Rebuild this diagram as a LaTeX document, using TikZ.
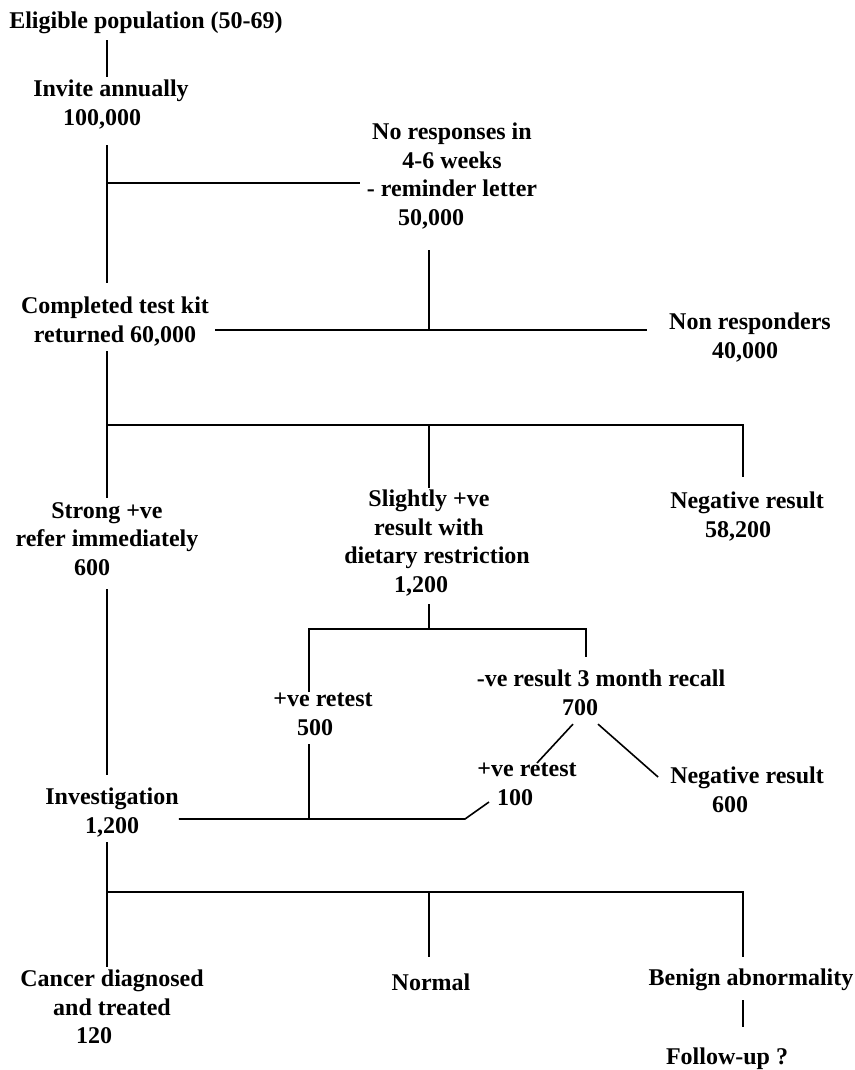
\documentclass[tikz,border=0pt]{standalone}
\usepackage{fontspec}
\setmainfont{Liberation Serif}
\begin{document}
\begin{tikzpicture}[x=1pt,y=-1pt,
  lbl/.style={align=center, inner sep=0pt, anchor=north,
    font=\fontsize{24}{28.5}\selectfont\bfseries,
    execute at begin node=\strut, execute at end node=\strut},
  conn/.style={line width=1.6pt}]
\useasboundingbox (0,0) rectangle (854,1070);
% nodes
\node[lbl] (elig) at (146,8) {Eligible population (50-69)};
\node[lbl] (invite) at (111,80) {Invite annually\\100,000\hspace*{18pt}};
\node[lbl] (nores) at (452,123) {No responses in\\4-6 weeks\hspace*{20pt}\\- reminder letter\\50,000\hspace*{42pt}};
\node[lbl] (comp) at (115,297) {Completed test kit\\returned 60,000};
\node[lbl] (nonresp) at (750,313) {Non responders\\40,000\hspace*{10pt}};
\node[lbl] (strong) at (107,502) {Strong +ve\\refer immediately\\600\hspace*{30pt}};
\node[lbl] (slight) at (429,490) {Slightly +ve\\result with\\\hspace*{16pt}dietary restriction\\1,200\hspace*{16pt}};
\node[lbl] (neg1) at (747,492) {Negative result\\58,200\hspace*{18pt}};
\node[lbl] (retest1) at (323,693) {+ve retest\\500\hspace*{16pt}};
\node[lbl] (recall) at (601,670) {-ve result 3 month recall\\700\hspace*{42pt}};
\node[lbl] (retest2) at (527,763) {+ve retest\\100\hspace*{24pt}};
\node[lbl] (neg2) at (747,767) {Negative result\\600\hspace*{34pt}};
\node[lbl] (invest) at (112,788) {Investigation\\1,200};
\node[lbl] (cancer) at (112,970) {Cancer diagnosed\\and treated\hspace*{16pt}\\120\hspace*{36pt}};
\node[lbl] (normal) at (431,970) {Normal};
\node[lbl] (benign) at (751,965) {Benign abnormality};
\node[lbl] (follow) at (727,1044) {Follow-up ?};
% guide coordinates
\coordinate (tx) at (107,0);
\coordinate (cx) at (429,0);
\coordinate (rx) at (743,0);
\coordinate (lx) at (309,0);
\coordinate (mx) at (586,0);
\coordinate (h1) at (0,183);
\coordinate (h2) at (0,330);
\coordinate (h3) at (0,425);
\coordinate (h4) at (0,629);
\coordinate (k1) at (465,819);
\coordinate (h5) at (0,892);
% connectors
\draw[conn] ([yshift=-3.5pt]elig.south -| tx) -- ([yshift=3pt]invite.north -| tx);
\draw[conn] ([yshift=-11pt]invite.south -| tx) -- ([yshift=14pt]comp.north -| tx);
\draw[conn] (tx |- h1) -- ([xshift=-7pt]nores.west |- h1);
\draw[conn] ([yshift=-16pt]nores.south -| cx) -- (cx |- h2);
\draw[conn] ([xshift=6pt]comp.east |- h2) -- ([xshift=-22pt]nonresp.west |- h2);
\draw[conn] (comp.south -| tx) -- ([yshift=4pt]strong.north -| tx);
\draw[conn] (tx |- h3) -- (rx |- h3) -- ([yshift=15pt]neg1.north -| rx);
\draw[conn] (cx |- h3) -- ([yshift=2pt]slight.north -| cx);
\draw[conn] ([yshift=-5.5pt]strong.south -| tx) -- ([yshift=13pt]invest.north -| tx);
\draw[conn] ([yshift=-3pt]slight.south -| cx) -- (cx |- h4);
\draw[conn] ([yshift=1pt]retest1.north -| lx) -- (lx |- h4) -- (mx |- h4) -- ([yshift=13pt]recall.north -| mx);
\draw[conn] (retest1.south -| lx) -- (lx |- k1);
\draw[conn] ([xshift=-28pt]recall.south) -- ([xshift=10pt]retest2.north);
\draw[conn] ([xshift=-3pt]recall.south) -- ([xshift=-12pt,yshift=-10pt]neg2.north west);
\draw[conn] (invest.east |- k1) -- (k1) -- ([xshift=-38pt,yshift=12pt]retest2.south);
\draw[conn] (invest.south -| tx) -- ([yshift=3pt]cancer.north -| tx);
\draw[conn] (tx |- h5) -- (rx |- h5) -- ([yshift=8pt]benign.north -| rx);
\draw[conn] (cx |- h5) -- ([yshift=13pt]normal.north -| cx);
\draw[conn] ([yshift=-6.5pt]benign.south -| rx) -- ([yshift=17pt]follow.north -| rx);
\end{tikzpicture}
\end{document}
